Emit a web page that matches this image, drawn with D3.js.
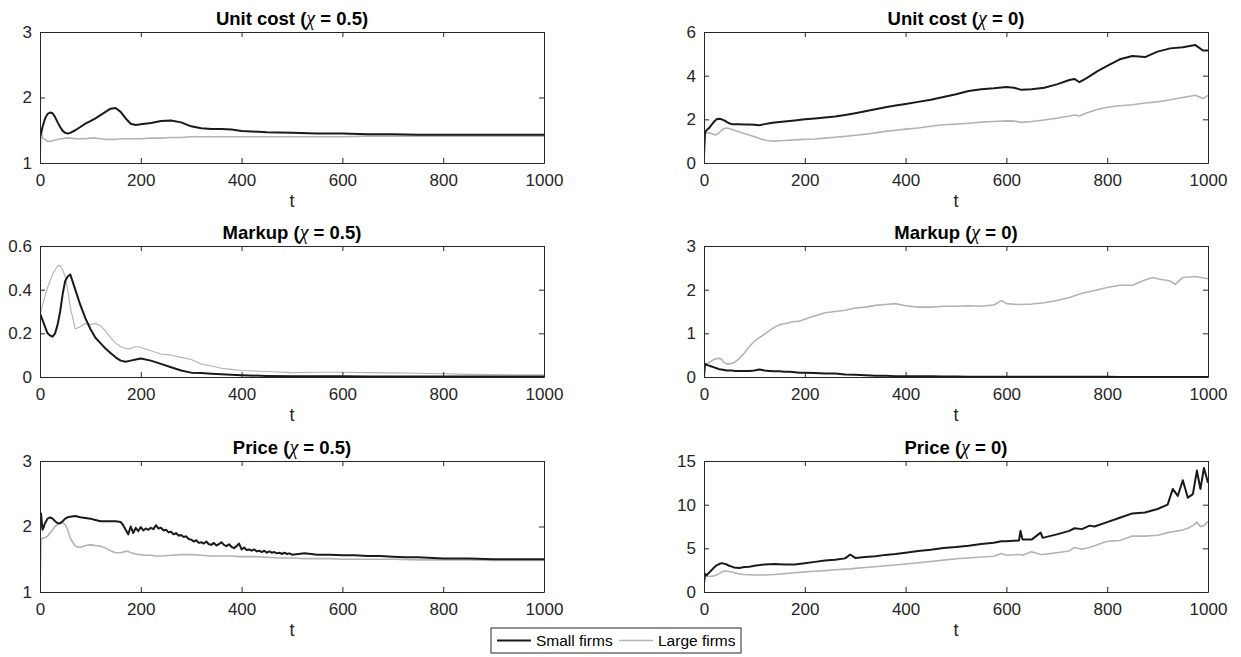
<!DOCTYPE html>
<html>
<head>
<meta charset="utf-8">
<script src="https://cdn.jsdelivr.net/npm/d3@7"></script>
<style>
  html, body { margin: 0; padding: 0; background: #fff; }
  svg { display: block; font-family: "Liberation Sans", Arial, sans-serif; }
</style>
</head>
<body>
<svg id="chart" width="1241" height="657"></svg>
<script>
// ---------------- DATA ----------------
const seriesNames = ["Small firms", "Large firms"];
const xTicks = [0, 200, 400, 600, 800, 1000];

// Unit cost (chi = 0.5)
const tA = [0,2,5,10,15,20,25,30,35,40,45,50,55,60,70,80,90,100,110,120,130,140,150,160,170,180,190,200,220,240,260,280,300,320,340,360,380,400,450,500,550,600,650,700,750,800,850,900,950,1000];
const smallA = [1.40,1.45,1.55,1.68,1.75,1.77,1.76,1.70,1.62,1.55,1.49,1.46,1.45,1.46,1.50,1.55,1.60,1.64,1.68,1.73,1.78,1.83,1.84,1.78,1.68,1.60,1.58,1.59,1.61,1.64,1.65,1.62,1.56,1.53,1.52,1.52,1.51,1.49,1.47,1.46,1.45,1.45,1.44,1.44,1.43,1.43,1.43,1.43,1.43,1.43];
const largeA = [1.00,1.50,1.38,1.36,1.33,1.33,1.34,1.35,1.36,1.37,1.37,1.38,1.38,1.38,1.37,1.37,1.37,1.38,1.38,1.37,1.36,1.36,1.36,1.37,1.37,1.37,1.37,1.37,1.38,1.38,1.39,1.39,1.40,1.40,1.40,1.40,1.40,1.40,1.40,1.40,1.40,1.40,1.41,1.41,1.41,1.41,1.41,1.41,1.41,1.41];
const yTicksA = [1, 2, 3];

// Unit cost (chi = 0)
const tB = [0,2,5,10,15,20,25,30,35,40,45,50,55,60,70,80,90,100,110,120,130,140,150,160,180,200,220,240,260,280,300,320,340,360,380,400,425,450,475,500,525,550,575,600,615,630,650,675,700,725,735,745,760,780,800,825,850,875,900,925,950,975,990,1000];
const smallB = [0.3,1.4,1.5,1.6,1.75,1.9,2.0,2.03,2.0,1.95,1.88,1.82,1.78,1.77,1.77,1.76,1.76,1.75,1.73,1.78,1.82,1.85,1.88,1.9,1.95,2.0,2.04,2.08,2.13,2.2,2.28,2.37,2.46,2.55,2.63,2.7,2.8,2.9,3.02,3.15,3.3,3.38,3.42,3.48,3.45,3.35,3.38,3.45,3.6,3.8,3.85,3.7,3.9,4.2,4.45,4.75,4.9,4.85,5.1,5.25,5.3,5.4,5.15,5.15];
const largeB = [0.9,1.3,1.4,1.38,1.35,1.3,1.3,1.38,1.5,1.58,1.6,1.58,1.55,1.5,1.42,1.35,1.28,1.2,1.12,1.05,1.02,1.0,1.02,1.03,1.06,1.08,1.1,1.14,1.18,1.22,1.27,1.32,1.38,1.45,1.5,1.55,1.6,1.68,1.75,1.78,1.82,1.87,1.9,1.93,1.92,1.86,1.9,1.97,2.05,2.15,2.2,2.15,2.3,2.45,2.55,2.62,2.67,2.75,2.8,2.9,3.0,3.1,2.95,3.1];
const yTicksB = [0, 2, 4, 6];

// Markup (chi = 0.5)
const tC = [0,2,5,10,15,20,25,30,35,40,45,50,55,60,70,80,90,100,110,120,130,140,150,160,170,180,190,200,220,240,260,280,300,320,340,360,380,400,450,500,550,600,650,700,750,800,850,900,950,1000];
const smallC = [0.29,0.28,0.26,0.23,0.20,0.19,0.185,0.20,0.24,0.30,0.38,0.44,0.46,0.47,0.40,0.33,0.27,0.22,0.18,0.155,0.13,0.11,0.09,0.075,0.07,0.075,0.08,0.085,0.075,0.06,0.045,0.03,0.02,0.018,0.015,0.013,0.01,0.008,0.005,0.004,0.003,0.003,0.002,0.002,0.002,0.002,0.002,0.002,0.002,0.002];
const largeC = [0.29,0.30,0.33,0.37,0.41,0.44,0.47,0.49,0.51,0.51,0.49,0.46,0.40,0.32,0.22,0.23,0.245,0.24,0.245,0.235,0.21,0.18,0.155,0.14,0.13,0.13,0.14,0.135,0.12,0.105,0.10,0.09,0.08,0.06,0.05,0.04,0.035,0.03,0.025,0.02,0.022,0.022,0.02,0.019,0.017,0.015,0.012,0.011,0.01,0.01];
const yTicksC = [0, 0.2, 0.4, 0.6];

// Markup (chi = 0)
const tD = [0,2,5,10,15,20,25,30,35,40,45,50,55,60,70,80,90,100,110,120,130,140,150,160,170,180,190,200,220,240,260,280,300,320,340,360,380,400,425,450,475,500,525,550,575,590,600,625,650,675,700,725,750,775,800,825,850,875,890,900,925,935,950,975,1000];
const smallD = [0.0,0.3,0.28,0.26,0.24,0.22,0.2,0.18,0.17,0.16,0.15,0.15,0.15,0.14,0.14,0.14,0.14,0.15,0.17,0.15,0.14,0.13,0.13,0.12,0.12,0.11,0.1,0.1,0.09,0.08,0.08,0.06,0.05,0.04,0.03,0.03,0.02,0.02,0.02,0.015,0.01,0.01,0.008,0.006,0.005,0.005,0.005,0.004,0.004,0.004,0.003,0.003,0.003,0.003,0.003,0.002,0.002,0.002,0.002,0.002,0.002,0.002,0.002,0.002,0.002];
const largeD = [0.28,0.28,0.3,0.33,0.37,0.4,0.42,0.43,0.4,0.33,0.3,0.3,0.31,0.33,0.42,0.55,0.7,0.82,0.9,0.98,1.06,1.14,1.2,1.22,1.25,1.27,1.28,1.32,1.4,1.47,1.5,1.53,1.58,1.6,1.64,1.66,1.68,1.63,1.6,1.6,1.62,1.62,1.63,1.62,1.65,1.75,1.68,1.66,1.67,1.7,1.75,1.82,1.92,1.98,2.05,2.1,2.1,2.22,2.28,2.25,2.2,2.12,2.28,2.3,2.25];
const yTicksD = [0, 1, 2, 3];

// Price (chi = 0.5) — large firms
const tE = [0,2,5,10,15,20,25,30,35,40,45,50,55,60,70,80,90,100,110,120,130,140,150,160,170,175,180,185,190,200,210,220,230,240,260,280,300,320,340,360,380,395,400,425,450,475,500,525,550,575,600,650,700,750,800,850,900,950,1000];
const largeE = [1.0,1.8,1.82,1.83,1.85,1.9,1.95,2.0,2.03,2.05,2.06,2.03,1.95,1.82,1.7,1.68,1.71,1.72,1.71,1.7,1.67,1.63,1.6,1.6,1.62,1.62,1.6,1.59,1.58,1.57,1.56,1.56,1.55,1.55,1.56,1.57,1.57,1.56,1.55,1.55,1.55,1.54,1.54,1.54,1.53,1.52,1.52,1.51,1.51,1.51,1.5,1.5,1.5,1.49,1.49,1.49,1.48,1.48,1.48];
// Price (chi = 0.5) — small firms (denser where the series is noisy)
const tEs = [0,2,5,10,15,20,25,30,35,40,45,50,55,60,70,80,90,100,110,120,130,140,150,
  160,165,170,175,180,185,190,195,200,205,210,215,220,225,230,235,240,245,250,255,260,265,270,275,280,285,290,295,300,
  305,310,315,320,325,330,335,340,345,350,355,360,365,370,375,380,385,390,395,400,405,410,415,420,425,430,435,440,445,
  450,455,460,465,470,475,480,485,490,495,500,525,550,575,600,625,650,675,700,725,750,800,850,900,950,1000];
const smallE = [1.95,2.2,1.95,2.05,2.12,2.14,2.12,2.08,2.05,2.05,2.08,2.12,2.14,2.15,2.16,2.14,2.13,2.12,2.1,2.08,2.08,2.08,2.08,
  2.07,2.02,1.95,1.88,2.0,1.9,1.98,1.93,1.99,1.94,1.97,1.95,1.98,1.96,2.02,1.97,1.98,1.94,1.95,1.91,1.92,1.88,1.9,1.86,1.87,1.84,1.85,1.81,1.8,
  1.77,1.79,1.75,1.76,1.74,1.77,1.73,1.72,1.75,1.71,1.73,1.76,1.72,1.7,1.73,1.69,1.67,1.7,1.74,1.65,1.68,1.64,1.65,1.63,1.65,1.62,1.63,1.61,1.63,
  1.6,1.62,1.6,1.61,1.59,1.6,1.58,1.6,1.58,1.59,1.57,1.59,1.57,1.57,1.56,1.56,1.55,1.55,1.54,1.53,1.53,1.51,1.51,1.5,1.5,1.5];
const yTicksE = [1, 2, 3];

// Price (chi = 0)
const tF = [0,2,5,10,15,20,25,30,35,40,45,50,55,60,70,80,90,100,120,140,160,180,200,220,240,260,280,290,300,320,340,360,380,400,425,450,475,500,525,550,575,590,600,625,628,632,650,668,672,700,725,735,750,765,775,800,825,850,875,900,920,930,940,950,960,970,978,985,992,1000];
const smallF = [1.0,2.1,1.9,2.2,2.5,2.8,3.05,3.2,3.3,3.25,3.15,3.0,2.9,2.8,2.75,2.85,2.9,3.0,3.15,3.2,3.15,3.15,3.3,3.45,3.6,3.7,3.85,4.3,3.9,4.0,4.1,4.25,4.35,4.5,4.7,4.85,5.05,5.15,5.3,5.5,5.65,5.8,5.8,5.9,7.0,6.0,6.0,6.8,6.2,6.6,7.0,7.3,7.2,7.6,7.5,8.0,8.5,9.0,9.1,9.5,10.0,11.8,11.0,12.8,10.8,11.2,13.9,11.8,14.2,12.5];
const largeF = [1.0,1.8,1.8,1.8,1.8,1.85,1.95,2.1,2.3,2.4,2.4,2.35,2.28,2.2,2.05,2.0,1.97,1.95,1.95,2.0,2.1,2.2,2.3,2.38,2.45,2.55,2.62,2.65,2.7,2.8,2.9,3.0,3.1,3.2,3.35,3.5,3.65,3.8,3.9,4.0,4.1,4.4,4.2,4.3,4.3,4.2,4.6,4.3,4.3,4.5,4.7,5.1,4.9,5.1,5.3,5.8,5.9,6.4,6.4,6.5,6.8,6.9,7.0,7.1,7.3,7.6,8.0,7.5,7.6,8.1];
const yTicksF = [0, 5, 10, 15];

const panels = [
  { title: "Unit cost", chi: "0.5", tS: tA, tL: tA, small: smallA, large: largeA, yTicks: yTicksA, col: 0, row: 0 },
  { title: "Unit cost", chi: "0",   tS: tB, tL: tB, small: smallB, large: largeB, yTicks: yTicksB, col: 1, row: 0 },
  { title: "Markup",    chi: "0.5", tS: tC, tL: tC, small: smallC, large: largeC, yTicks: yTicksC, col: 0, row: 1 },
  { title: "Markup",    chi: "0",   tS: tD, tL: tD, small: smallD, large: largeD, yTicks: yTicksD, col: 1, row: 1 },
  { title: "Price",     chi: "0.5", tS: tEs, tL: tE, small: smallE, large: largeE, yTicks: yTicksE, col: 0, row: 2 },
  { title: "Price",     chi: "0",   tS: tF, tL: tF, small: smallF, large: largeF, yTicks: yTicksF, col: 1, row: 2 }
];

// ---------------- LAYOUT ----------------
const colLeft = [40, 704];
const plotW = 504;
const rowTop = [32, 246, 461];
const plotH = 131;
const axisColor = "#262626";
const smallColor = "#1a1a1a";
const largeColor = "#b3b3b3";
const tickLen = 5;
const tickFont = "17px";

const svg = d3.select("#chart");

panels.forEach(p => {
  const x0 = colLeft[p.col], y0 = rowTop[p.row];
  const g = svg.append("g").attr("transform", `translate(${x0},${y0})`);
  const x = d3.scaleLinear().domain([0, 1000]).range([0, plotW]);
  const y = d3.scaleLinear().domain(d3.extent(p.yTicks)).range([plotH, 0]);

  const clipId = `clip-${p.col}-${p.row}`;
  g.append("clipPath").attr("id", clipId).append("rect")
    .attr("x", 0).attr("y", 0).attr("width", plotW).attr("height", plotH);

  const lineFor = ts => d3.line().x((d, i) => x(ts[i])).y(d => y(d));
  const lines = g.append("g").attr("clip-path", `url(#${clipId})`);
  lines.append("path").datum(p.large)
    .attr("fill", "none").attr("stroke", largeColor)
    .attr("stroke-width", p.row === 1 && p.col === 0 ? 1.1 : 1.6)
    .attr("stroke-linejoin", "round")
    .attr("d", lineFor(p.tL));
  lines.append("path").datum(p.small)
    .attr("fill", "none").attr("stroke", smallColor)
    .attr("stroke-width", 2)
    .attr("stroke-linejoin", "round")
    .attr("d", lineFor(p.tS));

  const fmt = d => String(d);
  const xb = g.append("g").attr("transform", `translate(0,${plotH})`)
    .call(d3.axisBottom(x).tickValues(xTicks).tickSizeInner(-tickLen).tickSizeOuter(0).tickPadding(11).tickFormat(fmt));
  const xt = g.append("g")
    .call(d3.axisTop(x).tickValues(xTicks).tickSizeInner(-tickLen).tickSizeOuter(0).tickFormat(""));
  const yl = g.append("g")
    .call(d3.axisLeft(y).tickValues(p.yTicks).tickSizeInner(-tickLen).tickSizeOuter(0).tickPadding(8).tickFormat(fmt));
  const yr = g.append("g").attr("transform", `translate(${plotW},0)`)
    .call(d3.axisRight(y).tickValues(p.yTicks).tickSizeInner(-tickLen).tickSizeOuter(0).tickFormat(""));

  [xb, xt, yl, yr].forEach(a => {
    a.select(".domain").attr("stroke", axisColor).attr("stroke-width", 1);
    a.selectAll(".tick line").attr("stroke", axisColor).attr("stroke-width", 1);
    a.selectAll(".tick text").attr("fill", "#262626").style("font-size", tickFont)
      .style("font-family", "'Liberation Sans', Arial, sans-serif");
  });

  g.append("text").attr("x", plotW / 2).attr("y", plotH + 44)
    .attr("text-anchor", "middle").attr("fill", "#262626")
    .style("font-size", "18px").text("t");

  const tt = g.append("text").attr("x", plotW / 2).attr("y", -7)
    .attr("text-anchor", "middle").attr("fill", "#000")
    .style("font-size", "18.5px").style("font-weight", "bold");
  tt.append("tspan").text(p.title + " (");
  tt.append("tspan").style("font-family", "'Liberation Serif', 'Times New Roman', serif")
    .style("font-style", "italic").style("font-weight", "normal").style("font-size", "20px").text("χ");
  tt.append("tspan").text(" = " + p.chi + ")");
});

// ---------------- LEGEND ----------------
const lg = svg.append("g").attr("transform", "translate(491,628)");
lg.append("rect").attr("x", 0).attr("y", 0).attr("width", 250).attr("height", 25)
  .attr("fill", "#fff").attr("stroke", "#262626").attr("stroke-width", 1);
const legItems = [
  { name: seriesNames[0], color: smallColor, w: 2, x: 6 },
  { name: seriesNames[1], color: largeColor, w: 1.6, x: 128 }
];
legItems.forEach(it => {
  lg.append("line").attr("x1", it.x).attr("x2", it.x + 34).attr("y1", 12.5).attr("y2", 12.5)
    .attr("stroke", it.color).attr("stroke-width", it.w);
  lg.append("text").attr("x", it.x + 39).attr("y", 18).attr("fill", "#000")
    .style("font-size", "15.5px").text(it.name);
});
</script>
</body>
</html>
